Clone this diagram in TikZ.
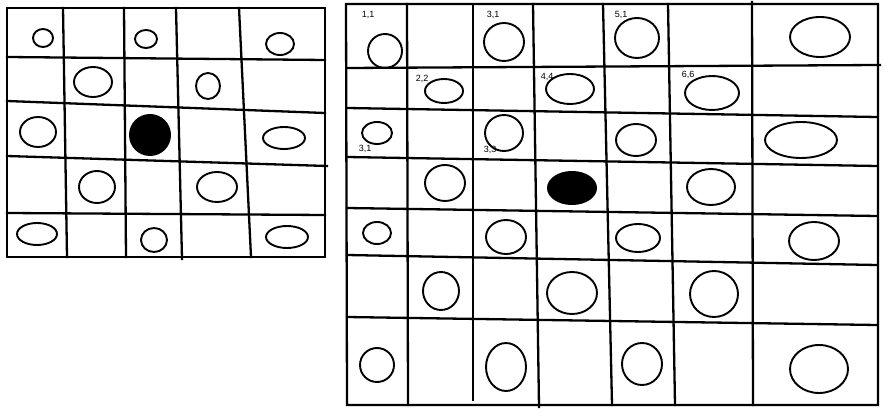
\documentclass[tikz,border=0pt]{standalone}
\usepackage{fontspec}
\setmainfont{Liberation Sans}
\begin{document}
\begin{tikzpicture}[x=1pt,y=-1pt,
  gridline/.style={line width=2.3pt,line cap=rect},
  blob/.style={line width=1.9pt},
  filledblob/.style={fill=black},
  lbl/.style={font=\fontsize{9}{10}\selectfont,inner sep=0pt}]
\useasboundingbox (0,0) rectangle (890,419);
% ---------- left grid ----------
\draw[gridline] (7,8) -- (325,8) -- (325,257) -- (7,257) -- cycle;
\draw[gridline] (63,8) -- (67,257);
\draw[gridline] (124,8) -- (126,257);
\draw[gridline] (176,8) -- (182,259);
\draw[gridline] (239,8) -- (251,257);
\draw[gridline] (7,57) -- (325,60);
\draw[gridline] (7,101) -- (325,113);
\draw[gridline] (7,156) -- (327,166);
\draw[gridline] (7,213) -- (325,215);
\foreach \cx/\cy/\rx/\ry in {43/38/10/9, 146/39/11/9, 280/44/14/11,
  93/82/19/15, 208/86/12/13,
  38/132/18/15, 284/138/21/11,
  97/187/18/16, 217/187/20/15,
  37/234/20/11, 154/240/13/12, 287/237/21/11}
  \draw[blob] (\cx,\cy) ellipse [x radius=\rx pt, y radius=\ry pt];
\fill[filledblob] (150,135) circle [radius=21pt];
% ---------- right grid ----------
\draw[gridline] (346,4) -- (878,4) -- (878,405) -- (347,405) -- cycle;
\draw[gridline] (407,4) -- (408,405);
\draw[gridline] (473,4) -- (473,400);
\draw[gridline] (533,4) -- (539,407);
\draw[gridline] (603,4) -- (612,405);
\draw[gridline] (668,4) -- (675,405);
\draw[gridline] (752,2) -- (753,405);
\draw[gridline] (347,68) -- (880,65);
\draw[gridline] (347,108) -- (877,117);
\draw[gridline] (347,157) -- (877,166);
\draw[gridline] (347,208) -- (877,216);
\draw[gridline] (347,255) -- (877,265);
\draw[gridline] (347,317) -- (877,325);
\foreach \cx/\cy/\rx/\ry in {385/51/17/17, 504/42/20/19, 637/38/22/20, 820/37/30/20,
  444/91/19/12, 570/89/24/15, 712/93/27/17,
  377/133/15/11, 504/133/19/18, 636/140/20/16, 801/140/36/18,
  445/183/20/18, 711/187/24/18,
  377/233/14/11, 506/237/20/17, 638/238/22/14, 814/241/25/19,
  441/291/18/19, 572/293/25/21, 714/294/24/23,
  377/365/17/17, 506/367/20/24, 642/364/20/21, 819/369/29/24}
  \draw[blob] (\cx,\cy) ellipse [x radius=\rx pt, y radius=\ry pt];
\fill[filledblob] (572,188) ellipse [x radius=25pt, y radius=17pt];
% ---------- labels ----------
\node[lbl] (l11) at (368,15) {1,1};
\node[lbl] (l31a) at (493,15) {3,1};
\node[lbl] (l51) at (621,15) {5,1};
\node[lbl] (l22) at (422,79) {2,2};
\node[lbl] (l44) at (547,77) {4,4};
\node[lbl] (l66) at (688,75) {6,6};
\node[lbl] (l31b) at (365,149) {3,1};
\node[lbl] (l33) at (490,150) {3,3};
\end{tikzpicture}
\end{document}
